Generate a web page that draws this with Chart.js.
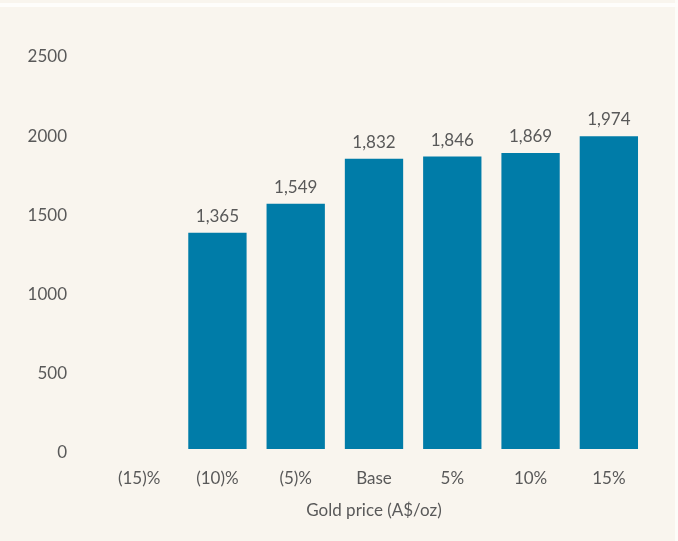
<!DOCTYPE html>
<html>
<head>
<meta charset="utf-8">
<script src="https://cdn.jsdelivr.net/npm/chart.js@4/dist/chart.umd.min.js"></script>
<style>
  html, body { margin: 0; padding: 0; background: #fdfcf9; }
  #wrap { position: absolute; left: 0; top: 0; width: 675px; height: 541px; background: #f9f5ee; }
  #stripe { position: absolute; left: 0; top: 3px; width: 678px; height: 4px; background: #fefdfb; }
  canvas { position: absolute; left: 0; top: 0; }
</style>
</head>
<body>
<div id="wrap"></div>
<div id="stripe"></div>
<canvas id="chart" width="678" height="541"></canvas>
<script>
// Sensitivity of value to the gold price
const categories = ['(15)%', '(10)%', '(5)%', 'Base', '5%', '10%', '15%'];
const values = [null, 1365, 1549, 1832, 1846, 1869, 1974];
const yTicks = [0, 500, 1000, 1500, 2000, 2500];

const textColor = '#595959';
const fontFamily = 'Lato, "Open Sans", sans-serif';

// Writes each bar's value just above it
const valueLabels = {
  id: 'valueLabels',
  afterDatasetsDraw(chart) {
    const ctx = chart.ctx;
    const meta = chart.getDatasetMeta(0);
    ctx.save();
    ctx.font = '17px ' + fontFamily;
    ctx.fillStyle = textColor;
    ctx.textAlign = 'center';
    ctx.textBaseline = 'bottom';
    meta.data.forEach((bar, i) => {
      const v = values[i];
      if (v === null || v === undefined) return;
      ctx.fillText(v.toLocaleString('en-US'), bar.x, bar.y - 8);
    });
    ctx.restore();
  }
};

new Chart(document.getElementById('chart'), {
  type: 'bar',
  data: {
    labels: categories,
    datasets: [{
      data: values,
      backgroundColor: '#007ca8',
      categoryPercentage: 1,
      barPercentage: 0.745
    }]
  },
  options: {
    responsive: false,
    animation: false,
    layout: { padding: { top: 53, right: 30, bottom: 20, left: 0 } },
    plugins: { legend: { display: false }, tooltip: { enabled: false } },
    scales: {
      y: {
        min: 0,
        max: 2500,
        afterBuildTicks(axis) { axis.ticks = yTicks.map(v => ({ value: v })); },
        afterFit(axis) { axis.width = 100; },
        grid: { display: false, drawTicks: false },
        border: { display: false },
        ticks: {
          color: textColor,
          font: { size: 17, family: fontFamily },
          padding: 33,
          labelOffset: 4,
          callback: v => String(v)
        }
      },
      x: {
        afterFit(axis) { axis.height = 72; },
        grid: { display: false, drawTicks: false },
        border: { display: false },
        ticks: {
          color: textColor,
          font: { size: 17, family: fontFamily },
          padding: 19
        },
        title: {
          display: true,
          text: 'Gold price (A$/oz)',
          color: textColor,
          font: { size: 17, family: fontFamily },
          padding: { top: 0, bottom: 0 }
        }
      }
    }
  },
  plugins: [valueLabels]
});
</script>
</body>
</html>
